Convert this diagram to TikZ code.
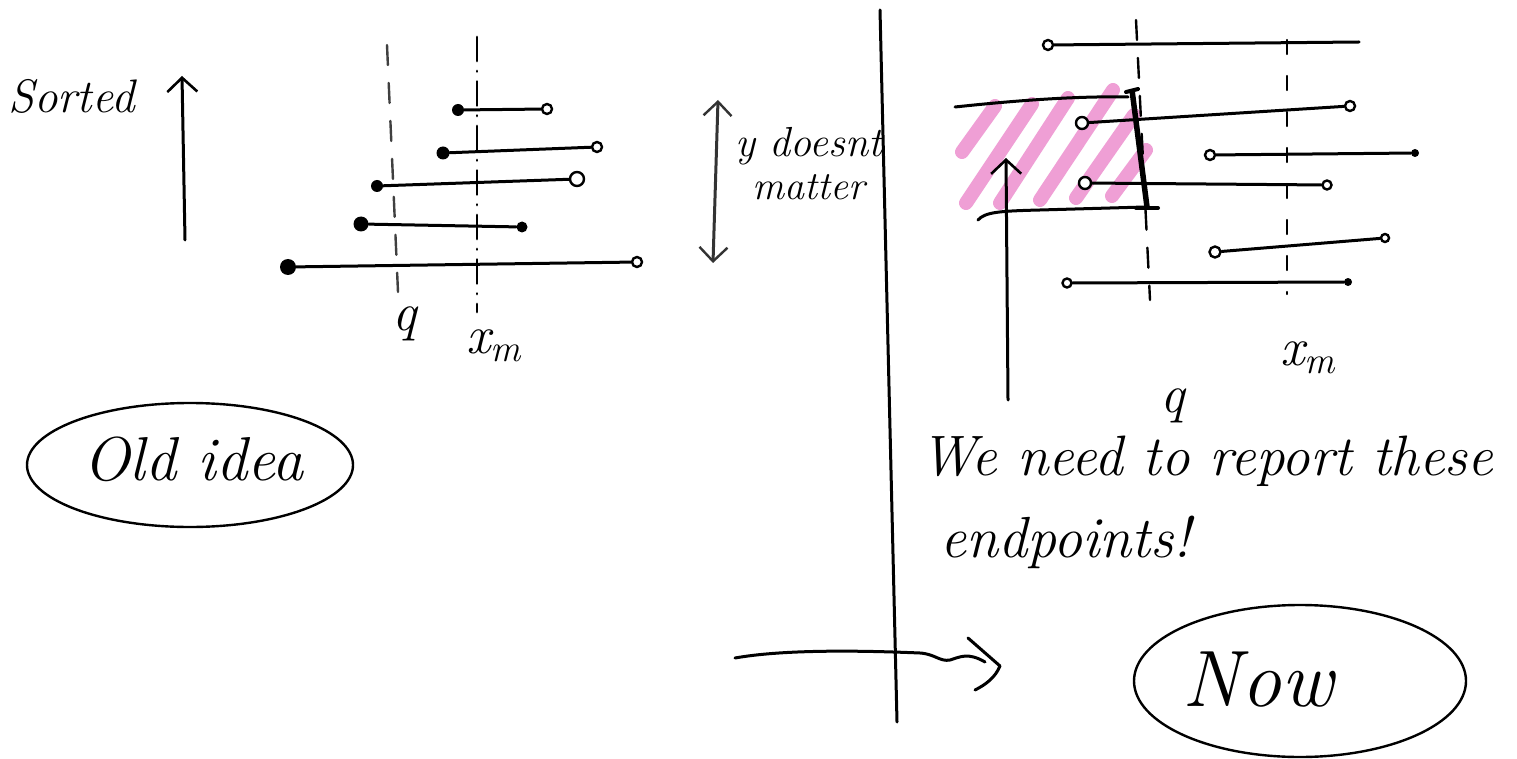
\documentclass[tikz,border=0pt]{standalone}
\usetikzlibrary{arrows.meta,shapes.geometric}
\definecolor{hatchpink}{RGB}{234,128,200}
\begin{document}
\begin{tikzpicture}[x=1pt,y=-1pt,
  seg/.style={line width=3pt, line cap=round},
  fdot/.style={circle, fill=black, inner sep=0pt, minimum size=#1},
  fdot/.default=12pt,
  odot/.style={circle, draw=black, line width=2.4pt, fill=white, inner sep=0pt, minimum size=#1},
  odot/.default=10pt,
  dashq/.style={line width=2.4pt, dash pattern=on 20pt off 18pt, line cap=round},
  dashx/.style={line width=2.8pt, dash pattern=on 24pt off 10pt on 0.5pt off 10pt, line cap=round},
  barb/.style={-{Straight Barb[length=14pt,width=30pt,line width=2.6pt]}},
  dbarb/.style={{Straight Barb[length=14pt,width=28pt,line width=2.4pt]}-{Straight Barb[length=14pt,width=28pt,line width=2.4pt]}},
  hand/.style={font=\fontsize{#1}{#1}\selectfont\itshape, inner sep=0pt},
  hatch/.style={line width=14pt, line cap=round, draw=hatchpink, opacity=0.75},
  oval/.style={ellipse, draw, line width=2.4pt, inner sep=0pt},
]
\useasboundingbox[fill=white] (0,0) rectangle (1517,759);

% ---------------- left part ----------------
\node[hand=47, anchor=base west] (sorted) at (8,113) {Sorted};
\coordinate (sortA) at (185,240);
\coordinate (sortB) at (182,76);
\draw[seg, barb] (sortA) -- (sortB);

% guide lines
\coordinate (qt) at (387,45);
\coordinate (qb) at (398,292);
\draw[dashq, draw=black!75] (qt) -- (qb);
\coordinate (xt) at (477,37);
\coordinate (xb) at (477,312);
\draw[dashx] (xt) -- (xb);

% segments
\node[fdot=12pt] (l1) at (458,110) {};
\node[odot=10pt] (r1) at (547,109) {};
\node[fdot=13pt] (l2) at (443,153) {};
\node[odot=10pt] (r2) at (597,147) {};
\node[fdot=12pt] (l3) at (377,186) {};
\node[odot=14pt] (r3) at (577,179) {};
\node[fdot=15pt] (l4) at (361,224) {};
\node[fdot=11pt] (r4) at (522,227) {};
\node[fdot=16pt] (l5) at (288,267) {};
\node[odot=10pt] (r5) at (637,262) {};
\draw[seg] (l1) -- (r1);
\draw[seg] (l2) -- (r2);
\draw[seg] (l3) -- (r3);
\draw[seg] (l4) -- (r4);
\draw[seg] (l5) -- (r5);

\node[hand=54, anchor=base] (ql) at (405,330) {q};
\node[hand=54, anchor=base west] (xml) at (466,353) {x\textsubscript{m}};

% double arrow
\coordinate (da1) at (718,100);
\coordinate (da2) at (713,263);
\draw[seg, dbarb, draw=black!80] (da1) -- (da2);
\node[hand=42, anchor=base west] (ydoes) at (735,157) {y doesnt};
\node[hand=40, anchor=base west] (matter) at (752,200) {matter};

% old idea
\node[oval, minimum width=326pt, minimum height=124pt] (oldoval) at (190,465) {};
\node[hand=62, anchor=base west] (old) at (83,480) {Old idea};

% ---------------- divider ----------------
\coordinate (dv1) at (880,10);
\coordinate (dv2) at (897,722);
\draw[seg] (dv1) -- (dv2);

% squiggle arrow
\coordinate (sq0) at (735,658);
\coordinate (sq1) at (920,653);
\coordinate (sq2) at (950,660);
\coordinate (sq3) at (985,662);
\coordinate (hd1) at (968,638);
\coordinate (hd2) at (1000,666);
\coordinate (hd3) at (975,690);
\draw[seg] (sq0) .. controls (780,650) and (850,650) .. (sq1)
  .. controls (935,654) and (940,662) .. (sq2)
  .. controls (960,657) and (968,652) .. (sq3);
\draw[seg, line join=round] (hd1) -- (hd2) .. controls (995,678) and (985,685) .. (hd3);

% ---------------- right part ----------------
% hatching
\draw[hatch] (962,152) -- (995,106);
\draw[hatch] (966,203) -- (1032,104);
\draw[hatch] (1000,203) -- (1068,98);
\draw[hatch] (1040,200) -- (1113,90);
\draw[hatch] (1076,198) -- (1134,115);
\draw[hatch] (1112,196) -- (1146,150);

% guide lines
\coordinate (qrt) at (1136,20);
\coordinate (qrb) at (1150,300);
\draw[dashq] (qrt) -- (qrb);
\coordinate (xrt) at (1287,40);
\coordinate (xrb) at (1287,294);
\draw[dashq, dash pattern=on 14pt off 22pt] (xrt) -- (xrb);

% box edges
\coordinate (ub1) at (955,107);
\coordinate (ub2) at (1128,97);
\draw[seg] (ub1) .. controls (1020,100) and (1080,96) .. (ub2);
\coordinate (lb1) at (978,220);
\coordinate (lb2) at (1145,207);
\draw[seg] (lb1) .. controls (985,212) and (1000,211) .. (1040,210) -- (lb2);

% thick query segment
\coordinate (tv1) at (1132,90);
\coordinate (tv2) at (1147,207);
\draw[line width=5.5pt] (tv1) -- (tv2);
\coordinate (th1) at (1126,92);
\coordinate (th2) at (1138,89);
\draw[line width=4pt, line cap=round] (th1) -- (th2);
\coordinate (tb1) at (1136,208);
\coordinate (tb2) at (1158,208);
\draw[line width=4pt, line cap=round] (tb1) -- (tb2);

% segments
\node[odot=10pt] (R0l) at (1048,45) {};
\coordinate (R0r) at (1359,42);
\node[odot=12pt] (Ral) at (1082,123) {};
\node[odot=10pt] (Rar) at (1350,106) {};
\node[odot=10pt] (Rbl) at (1210,155) {};
\node[fdot=8pt] (Rbr) at (1415,153) {};
\node[odot=12pt] (Rcl) at (1085,183) {};
\node[odot=9pt] (Rcr) at (1327,185) {};
\node[odot=11pt] (Rdl) at (1215,252) {};
\node[odot=8pt] (Rdr) at (1385,238) {};
\node[odot=9pt] (Rel) at (1067,283) {};
\node[fdot=8pt] (Rer) at (1348,282) {};
\draw[seg] (R0l) -- (R0r);
\draw[seg] (Ral) -- (Rar);
\draw[seg] (Rbl) -- (Rbr);
\draw[seg] (Rcl) -- (Rcr);
\draw[seg] (Rdl) -- (Rdr);
\draw[seg] (Rel) -- (Rer);

% arrow into hatch
\coordinate (ha1) at (1008,400);
\coordinate (ha2) at (1006,158);
\draw[seg, barb] (ha1) -- (ha2);

\node[hand=54, anchor=base west] (xmr) at (1280,365) {x\textsubscript{m}};
\node[hand=54, anchor=base] (qr) at (1173,412) {q};

\node[hand=57, anchor=base west] (need) at (920,475) {We need to report these};
\node[hand=58, anchor=base west] (endp) at (940,557) {endpoints!};

% now
\node[oval, minimum width=332pt, minimum height=152pt] (nowoval) at (1300,681) {};
\node[hand=80, anchor=center] (now) at (1258,680) {Now};
\end{tikzpicture}
\end{document}
